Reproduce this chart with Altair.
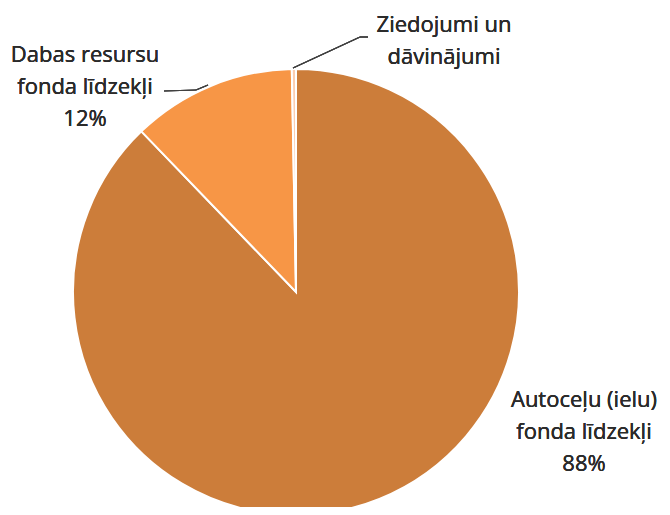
import altair as alt
import pandas as pd

categories = ["Autoceļu (ielu) fonda līdzekļi", "Dabas resursu fonda līdzekļi", "Ziedojumi un dāvinājumi"]
values = [87.8, 11.9, 0.3]
pct_labels = ["88%", "12%", ""]
label_lines = [
    ["Autoceļu (ielu)", "fonda līdzekļi"],
    ["Dabas resursu", "fonda līdzekļi"],
    ["Ziedojumi un", "dāvinājumi"],
]
colors = ["#CC7D3A", "#F79646", "#FBCDB0"]

df = pd.DataFrame({"cat": categories, "val": values, "ord": list(range(len(categories)))})

FONT = "Open Sans"
CX, CY, R = 288, 284, 223

pie = alt.Chart(df).mark_arc(stroke="white", strokeWidth=2).encode(
    theta=alt.Theta("val:Q", stack=True),
    order=alt.Order("ord:Q"),
    color=alt.Color("cat:N", scale=alt.Scale(domain=categories, range=colors), legend=None),
    x=alt.value(CX), y=alt.value(CY), radius=alt.value(R),
)

def label(i, x, y):
    lines = label_lines[i] + ([pct_labels[i]] if pct_labels[i] else [])
    return alt.Chart(df).mark_text(
        font=FONT, fontSize=22, fontWeight="normal", color="#2B2B2B", align="center",
        baseline="alphabetic", lineHeight=32,
    ).encode(x=alt.value(x), y=alt.value(y), text=alt.value(lines))

lab_a = label(0, 576, 399)
lab_d = label(1, 77, 54)
lab_z = label(2, 436, 24)

def seg(x1, y1, x2, y2):
    return alt.Chart(df).mark_rule(color="#404040", strokeWidth=1.2).encode(
        x=alt.value(x1), y=alt.value(y1), x2=alt.value(x2), y2=alt.value(y2)
    )

leaders = [
    seg(156, 83, 188, 82), seg(188, 82, 200, 77),
    seg(285, 60, 352, 29), seg(352, 29, 360, 29),
]

chart = alt.layer(pie, *leaders, lab_a, lab_d, lab_z).properties(
    width=654, height=499, padding=0,
    autosize=alt.AutoSizeParams(type="none"),
).configure_view(stroke=None)

chart.save("out.html", embed_options={"renderer": "svg", "actions": False})
